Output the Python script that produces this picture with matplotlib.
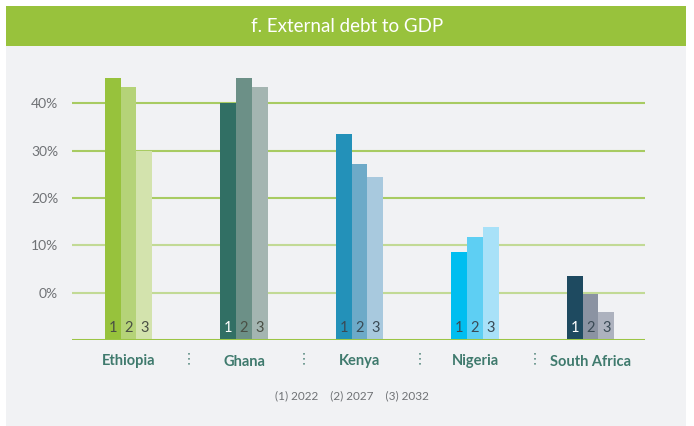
import matplotlib
matplotlib.use("Agg")
import matplotlib.pyplot as plt
from matplotlib.patches import Rectangle
from matplotlib.transforms import blended_transform_factory

plt.rcParams['font.family'] = ['Lato', 'DejaVu Sans']

# Data
countries = ["Ethiopia", "Ghana", "Kenya", "Nigeria", "South Africa"]
years = ["2022", "2027", "2032"]
debt_2022 = [45.3, 40.0, 33.6, 8.6, 3.5]
debt_2027 = [43.4, 45.3, 27.3, 11.8, -0.3]
debt_2032 = [30.0, 43.4, 24.5, 13.9, -4.1]
y_ticks = [0, 10, 20, 30, 40]
y_tick_labels = ["0%", "10%", "20%", "30%", "40%"]
baseline = -10

palette = [
    ["#97c23c", "#b5d378", "#d3e3ad"],
    ["#316f64", "#6c9087", "#a4b5b1"],
    ["#2391b9", "#6daac8", "#a8c9de"],
    ["#00bef0", "#5ecff3", "#a8e1f8"],
    ["#1e4a60", "#8b93a2", "#adb2be"],
]
number_colors = [
    ["#4a4f45", "#4a4f45", "#4a4f45"],
    ["#ffffff", "#4a4f45", "#4a4f45"],
    ["#3a4a55", "#3a4a55", "#3a4a55"],
    ["#3a4a55", "#3a4a55", "#3a4a55"],
    ["#ffffff", "#3a4a55", "#3a4a55"],
]

W, H = 694, 426
fig = plt.figure(figsize=(W / 100, H / 100), dpi=100)
fig.patch.set_facecolor("white")

def fx(px):
    return px / W

def fy(py):
    return 1 - py / H

# Background panel and title banner
fig.patches.append(Rectangle((fx(6), 0), fx(680), fy(45.5), transform=fig.transFigure,
                             facecolor="#f1f2f4", edgecolor="none", zorder=-10))
fig.patches.append(Rectangle((fx(6), fy(45.5)), fx(680), (45.5 - 6) / H, transform=fig.transFigure,
                             facecolor="#98c23c", edgecolor="none", zorder=-10))
fig.text(fx(347), fy(26), "f. External debt to GDP", color="white", fontsize=13.5,
         fontweight="normal", ha="center", va="center")

# Plot area
left, right, bottom, top = 72, 645, 340, 60
ax = fig.add_axes([fx(left), fy(bottom), fx(right - left), (bottom - top) / H])
ax.set_facecolor("none")
spacing = 115.5
ax.set_xlim(-56.5 / spacing, (right - left - 56.5) / spacing)
ax.set_ylim(baseline, baseline + (bottom - top) / 4.73)
for s in ax.spines.values():
    s.set_visible(False)

grid_colors = {0: "#c2da95", 10: "#c2da95", 20: "#a8cb62", 30: "#a8cb62", 40: "#a8cb62"}
for t in y_ticks:
    ax.axhline(t, color=grid_colors[t], lw=1.5, zorder=1)
ax.axhline(baseline, color="#9cc545", lw=2.2, zorder=3)

ax.set_yticks(y_ticks)
ax.set_yticklabels(y_tick_labels)
ax.tick_params(axis="y", length=0, pad=10, labelsize=10, labelcolor="#6f7275")
ax.set_xticks([])

bw = 15.7 / spacing
series = [debt_2022, debt_2027, debt_2032]
for i, c in enumerate(countries):
    for j, vals in enumerate(series):
        x = i + (j - 1) * bw
        v = vals[i]
        ax.bar(x, v - baseline, bottom=baseline, width=bw, color=palette[i][j],
               zorder=2, linewidth=0)
        ax.text(x, baseline + 2.5, str(j + 1), ha="center", va="center",
                fontsize=10.5, color=number_colors[i][j], zorder=4)

# Category labels and dotted separators
trans = blended_transform_factory(ax.transData, ax.transAxes)
for i, c in enumerate(countries):
    ax.text(i, -(361.5 - bottom) / (bottom - top), c, transform=trans, ha="center", va="center",
            fontsize=10.5, fontweight="bold", color="#3f7a6d", clip_on=False)
for i in range(len(countries) - 1):
    ax.plot([i + 0.52, i + 0.52], [-(353 - bottom) / (bottom - top), -(368 - bottom) / (bottom - top)],
            transform=trans, color="#5f8f85", lw=1.2, linestyle=(0, (1, 2)), clip_on=False)

# Year key
key = "    ".join(f"({k + 1}) {y}" for k, y in enumerate(years))
fig.text(fx(352), fy(396), key, ha="center", va="center", fontsize=8.5, color="#6f7275")

fig.savefig("out.png", dpi=100, facecolor=fig.get_facecolor())
